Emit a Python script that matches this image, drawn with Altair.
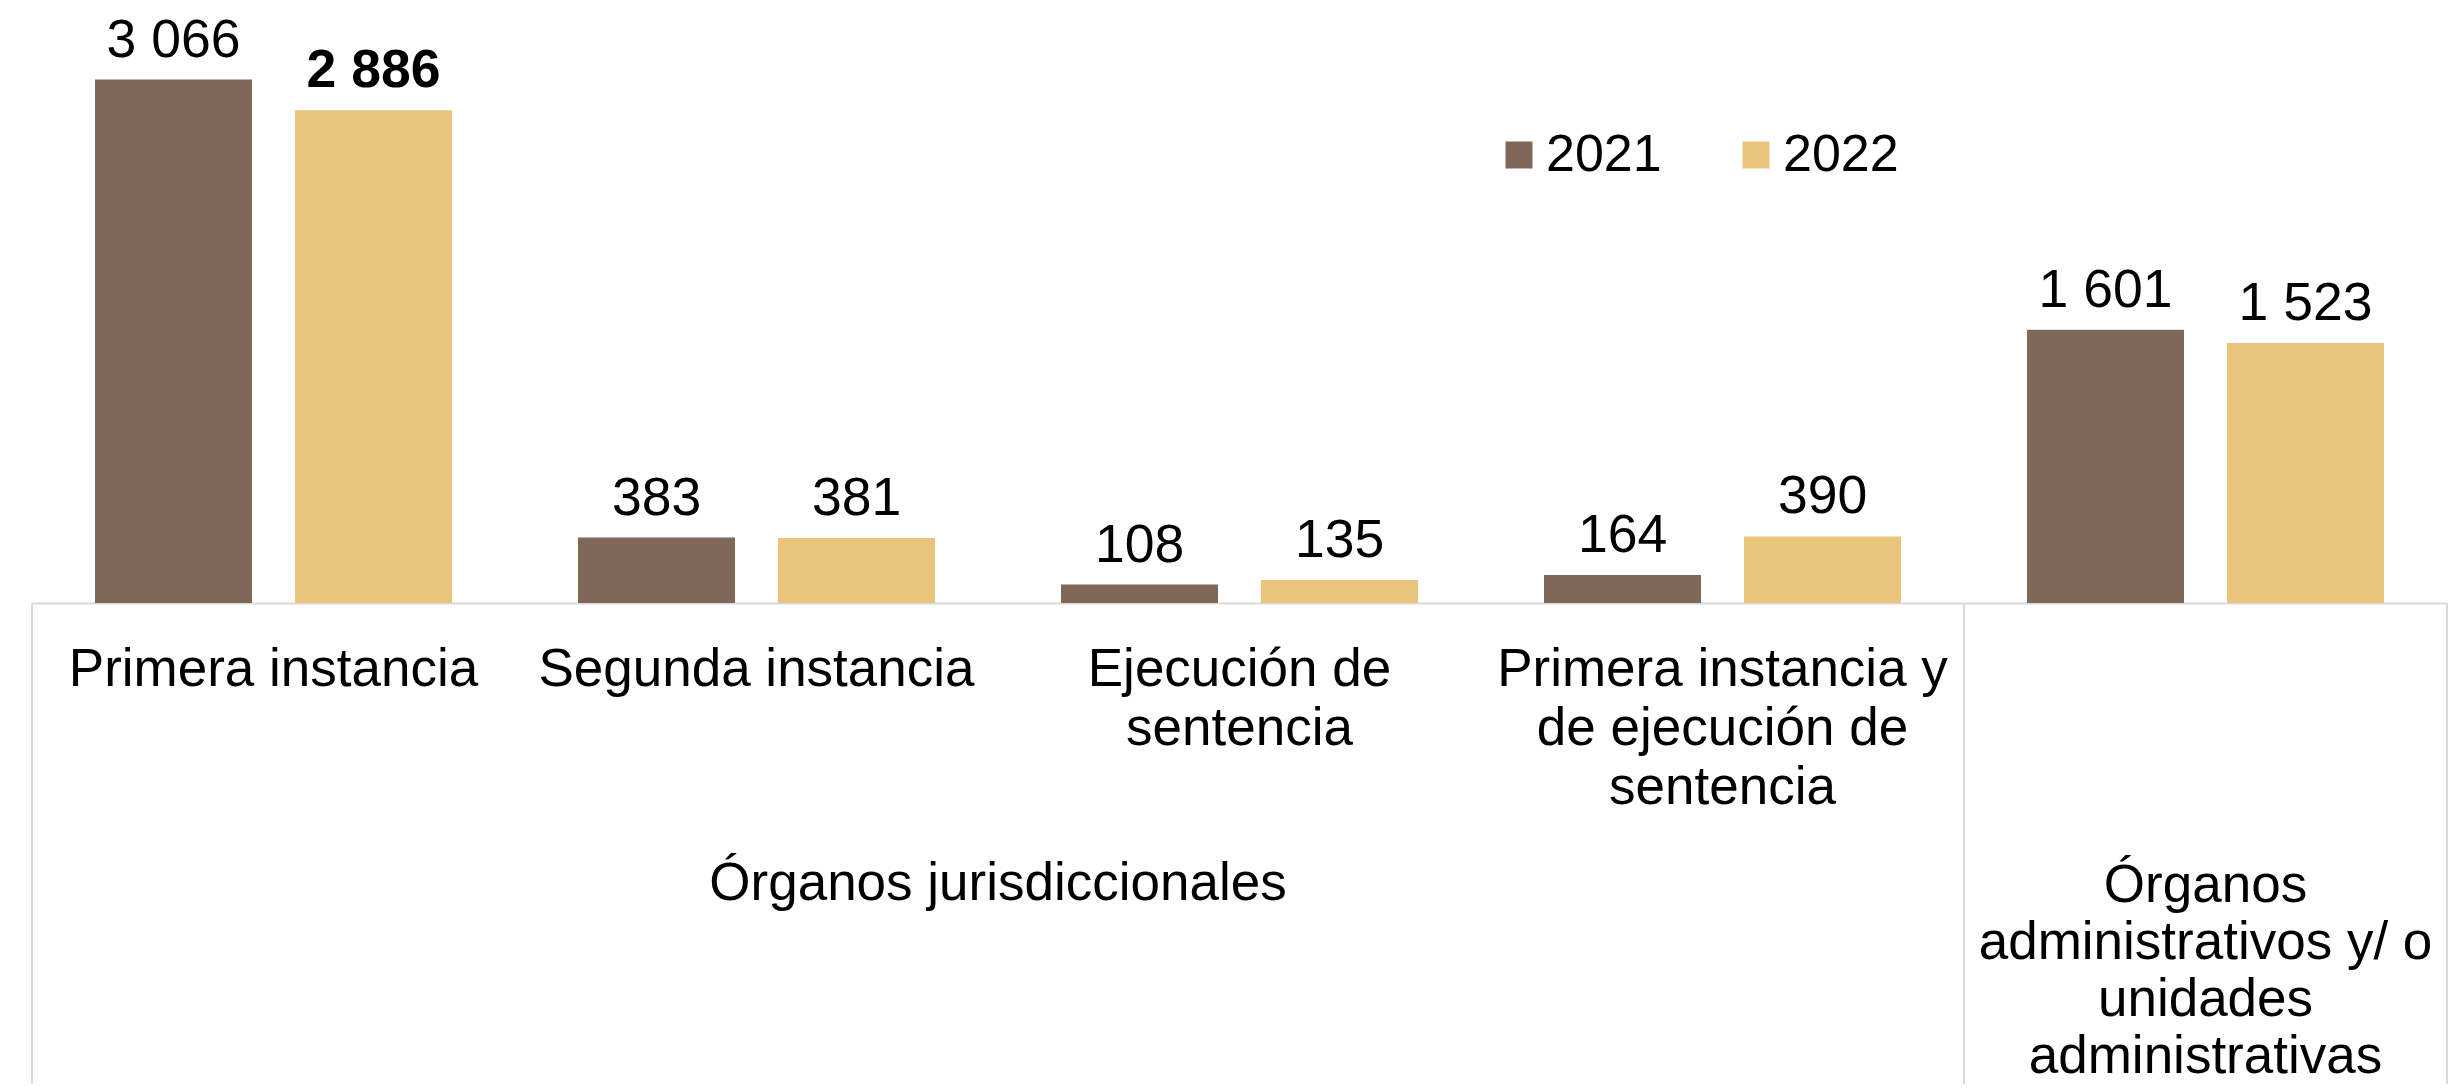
import altair as alt
import pandas as pd

categories = [
    "Primera instancia",
    "Segunda instancia",
    "Ejecución de|sentencia",
    "Primera instancia y|de ejecución de|sentencia",
    "Órganos administrativos",
]
years = ["2021", "2022"]
values_2021 = [3066, 383, 108, 164, 1601]
values_2022 = [2886, 381, 135, 390, 1523]
bold_2022 = [True, False, False, False, False]

group_juris = "Órganos jurisdiccionales"
group_admin = "Órganos|administrativos y/ o|unidades|administrativas"

colors = ["#806858", "#E9C47A"]
FONT = "Liberation Sans"
FS = 53
FSV = 53.5
GRID = "#D9D9D9"

rows = []
for c, v in zip(categories, values_2021):
    rows.append({"cat": c, "year": "2021", "value": v, "bold": False})
for c, v, b in zip(categories, values_2022, bold_2022):
    rows.append({"cat": c, "year": "2022", "value": v, "bold": b})
df = pd.DataFrame(rows)
df["label"] = df["value"].map(lambda v: f"{v:,}".replace(",", " "))

W = 2415
H = 589

xscale = alt.Scale(domain=categories, paddingInner=0, paddingOuter=0)
xaxis = alt.Axis(
    title=None, ticks=False, labelAngle=0, labelAlign="center", labelFont=FONT, labelFontSize=FS,
    labelColor="black", labelPadding=66, labelLineHeight=59, labelLimit=2000,
    labelOverlap=False, domainColor=GRID, domainWidth=2,
    labelExpr="datum.index >= 1 ? '' : split(datum.label, '|')",
)
xoff = alt.XOffset("year:N", scale=alt.Scale(domain=years, paddingInner=0.215, paddingOuter=0.315))
yenc = alt.Y("value:Q", scale=alt.Scale(domain=[0, 3450]), axis=None)

base = alt.Chart(df)

bars = base.mark_bar().encode(
    x=alt.X("cat:N", scale=xscale, axis=xaxis, sort=categories),
    xOffset=xoff,
    y=yenc,
    color=alt.Color(
        "year:N",
        scale=alt.Scale(domain=years, range=colors),
        legend=alt.Legend(
            title=None, orient="none", legendX=1461, legendY=115, direction="horizontal",
            symbolType="square", symbolSize=729, symbolStrokeWidth=0,
            labelFont=FONT, labelFontSize=52, labelColor="black", labelOffset=1,
            columnPadding=68, padding=0, labelLimit=500,
        ),
    ),
)

labels_normal = base.transform_filter("!datum.bold").mark_text(
    baseline="alphabetic", dy=-23, font=FONT, fontSize=FSV, color="black"
).encode(
    x=alt.X("cat:N", scale=xscale, sort=categories), xOffset=xoff, y=yenc, text="label:N"
)
labels_bold = base.transform_filter("datum.bold").mark_text(
    baseline="alphabetic", dy=-23, font=FONT, fontSize=FSV, color="black", fontWeight="bold"
).encode(
    x=alt.X("cat:N", scale=xscale, sort=categories), xOffset=xoff, y=yenc, text="label:N"
)

# separator lines of the category table
sep_start = alt.Chart(pd.DataFrame({"cat": [categories[0], categories[4]]})).mark_rule(
    color=GRID, strokeWidth=2
).encode(
    x=alt.X("cat:N", scale=xscale, sort=categories, bandPosition=0),
    y=alt.value(H), y2=alt.value(H + 481),
)
sep_end = alt.Chart(pd.DataFrame({"cat": [categories[4]]})).mark_rule(
    color=GRID, strokeWidth=2
).encode(
    x=alt.X("cat:N", scale=xscale, sort=categories, bandPosition=1),
    y=alt.value(H), y2=alt.value(H + 481),
)

grp1 = alt.Chart(pd.DataFrame({"cat": [categories[2]], "g": [group_juris]})).mark_text(
    baseline="alphabetic", font=FONT, fontSize=FS, color="black", lineBreak="|", lineHeight=59
).encode(
    x=alt.X("cat:N", scale=xscale, sort=categories, bandPosition=0),
    y=alt.value(H + 297), text="g:N",
)
grp2 = alt.Chart(pd.DataFrame({"cat": [categories[4]], "g": [group_admin]})).mark_text(
    baseline="alphabetic", font=FONT, fontSize=FS, color="black", lineBreak="|", lineHeight=57
).encode(
    x=alt.X("cat:N", scale=xscale, sort=categories, bandPosition=0.5),
    y=alt.value(H + 299), text="g:N",
)

chart = alt.layer(sep_start, sep_end, bars, labels_normal, labels_bold, grp1, grp2).properties(
    width=W, height=H,
    autosize=alt.AutoSizeParams(type="none"),
    padding={"left": 24, "top": 6, "right": 8, "bottom": 481},
    background="white",
).configure_view(stroke=None)

chart.save("out.html", embed_options={"renderer": "svg", "actions": False})
